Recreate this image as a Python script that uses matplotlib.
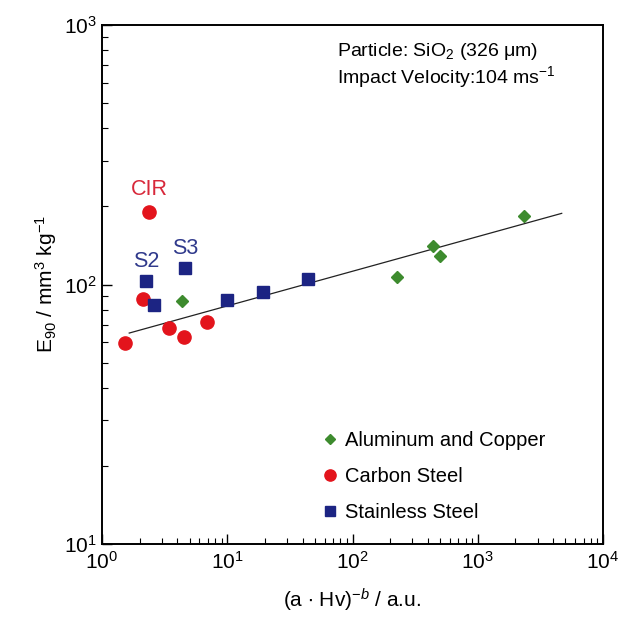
import numpy as np
import matplotlib
matplotlib.use('Agg')
import matplotlib.pyplot as plt

matplotlib.rcParams.update({
    'font.family': 'Liberation Sans',
    'mathtext.fontset': 'custom',
    'mathtext.rm': 'Liberation Sans',
    'mathtext.it': 'Liberation Sans:italic',
    'mathtext.default': 'regular',
    'font.size': 12,
})

# E90 erosion data, (a*Hv)^-b vs E90
al_x = [4.33, 225, 442, 500, 2340]
al_y = [86.6, 106.6, 141, 128.8, 184]

cs_x = [2.37, 2.14, 1.53, 3.45, 4.52, 6.85]
cs_y = [190.8, 87.7, 59.3, 68.2, 62.6, 71.5]

ss_x = [2.25, 2.60, 4.60, 9.9, 19.4, 44.4]
ss_y = [103, 83.2, 116.1, 87.1, 93.3, 105]

fit_x = [1.65, 4680]
fit_y = [65.0, 188]

green = '#3d8b2e'
red = '#e3141c'
navy = '#1c2483'

fig = plt.figure(figsize=(6.33, 6.22), dpi=100)
ax = fig.add_axes([102/633, 1-544/622, 501/633, 519/622])

ax.plot(fit_x, fit_y, c='#222222', lw=0.9, zorder=1)
ax.plot(al_x, al_y, 'D', c=green, ms=6.5, mec=green, label='Aluminum and Copper', zorder=3)
ax.plot(cs_x, cs_y, 'o', c=red, ms=9.5, mec=red, label='Carbon Steel', zorder=3)
ax.plot(ss_x, ss_y, 's', c=navy, ms=8, mec=navy, label='Stainless Steel', zorder=3)

ax.text(2.37, 212, 'CIR', color='#d8283a', fontsize=15.5, ha='center', va='bottom')
ax.text(2.25, 112, 'S2', color='#303a8c', fontsize=15.5, ha='center', va='bottom')
ax.text(4.60, 125, 'S3', color='#303a8c', fontsize=15.5, ha='center', va='bottom')

ax.text(0.47, 0.97, 'Particle: SiO$_2$ (326 $\\mu$m)\nImpact Velocity:104 ms$^{-1}$',
        transform=ax.transAxes, ha='left', va='top', fontsize=14, linespacing=1.15)

ax.set_xscale('log')
ax.set_yscale('log')
ax.set_xlim(1, 1e4)
ax.set_ylim(10, 1000)

ax.set_xlabel('(a $\\bullet$ Hv)$^{-\\mathit{b}}$ / a.u.', fontsize=15, labelpad=10)
ax.set_ylabel('E$_{90}$ / mm$^3$ kg$^{-1}$', fontsize=15, labelpad=4)

ax.tick_params(which='major', direction='in', length=7, width=1, labelsize=15)
ax.tick_params(axis='x', which='major', pad=5)
ax.tick_params(which='minor', direction='in', length=4, width=0.8)
for s in ax.spines.values():
    s.set_linewidth(1.4)

lgd = ax.legend(loc='upper left', bbox_to_anchor=(0.435, 0.218), frameon=False,
                fontsize=14.5, handletextpad=0.25, handlelength=1.0, labelspacing=0.85,
                borderpad=0, borderaxespad=0, markerscale=0.85)

fig.savefig('out.png', dpi=100)
